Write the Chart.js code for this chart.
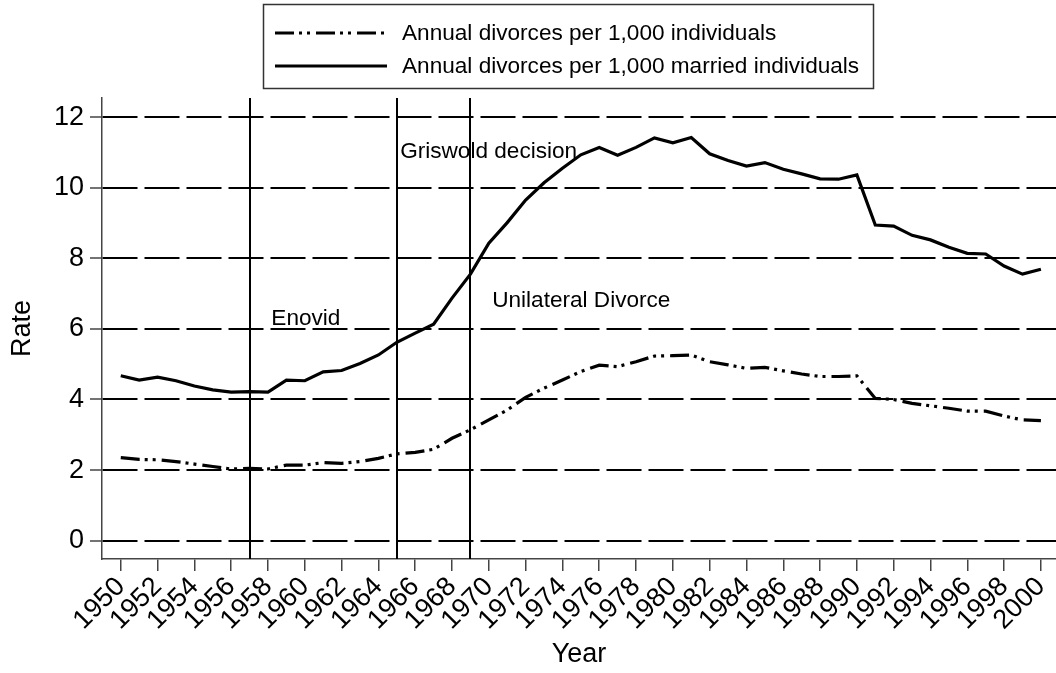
<!DOCTYPE html>
<html>
<head>
<meta charset="utf-8">
<script src="https://cdn.jsdelivr.net/npm/chart.js@4/dist/chart.umd.min.js"></script>
<style>
  html, body { margin: 0; padding: 0; background: #fff; }
</style>
</head>
<body>
<canvas id="chart" width="1056" height="673"></canvas>
<script>
// data
const years = [1950,1951,1952,1953,1954,1955,1956,1957,1958,1959,
  1960,1961,1962,1963,1964,1965,1966,1967,1968,1969,
  1970,1971,1972,1973,1974,1975,1976,1977,1978,1979,
  1980,1981,1982,1983,1984,1985,1986,1987,1988,1989,
  1990,1991,1992,1993,1994,1995,1996,1997,1998,1999,2000];

const per_individuals = [2.35,2.30,2.29,2.24,2.17,2.10,2.03,2.05,2.03,2.14,
  2.14,2.21,2.19,2.24,2.33,2.46,2.50,2.59,2.90,3.14,
  3.42,3.70,4.06,4.32,4.55,4.79,4.97,4.93,5.07,5.23,
  5.24,5.26,5.07,4.98,4.88,4.91,4.81,4.72,4.65,4.65,
  4.67,4.03,4.00,3.89,3.82,3.75,3.67,3.67,3.53,3.42,3.40];

const per_married = [4.67,4.55,4.63,4.53,4.38,4.27,4.21,4.22,4.21,4.55,
  4.53,4.78,4.82,5.02,5.26,5.62,5.88,6.13,6.87,7.55,
  8.43,9.01,9.65,10.14,10.55,10.93,11.14,10.92,11.14,11.41,
  11.27,11.42,10.96,10.77,10.61,10.71,10.52,10.39,10.25,10.24,
  10.36,8.94,8.91,8.65,8.52,8.31,8.14,8.12,7.78,7.55,7.69];

const series_labels = ['Annual divorces per 1,000 individuals', 'Annual divorces per 1,000 married individuals'];

// policy events (vertical lines) and where their text sits, in data units
const event_years = [1957, 1965, 1969];
const event_labels = ['Enovid', 'Griswold decision', 'Unilateral Divorce'];
const event_label_x = [1958.18, 1965.18, 1970.18];
const event_label_y = [6.11, 10.85, 6.63];

const FONT = "'Liberation Sans', Arial, Helvetica, sans-serif";
const DASH_DOT = [19, 5, 3, 5, 3, 6];

const overlay = {
  id: 'overlay',
  beforeDatasetsDraw(chart) {
    const {ctx, chartArea, scales: {x, y}} = chart;
    ctx.save();
    ctx.strokeStyle = '#000';
    ctx.lineWidth = 2;
    event_years.forEach(yr => {
      let px = Math.round(x.getPixelForValue(yr));
      ctx.beginPath();
      ctx.moveTo(px, chartArea.top);
      ctx.lineTo(px, chartArea.bottom);
      ctx.stroke();
    });
    ctx.fillStyle = '#000';
    ctx.font = '22.6px ' + FONT;
    ctx.textBaseline = 'alphabetic';
    ctx.textAlign = 'left';
    event_labels.forEach((t, i) => {
      ctx.fillText(t, x.getPixelForValue(event_label_x[i]), y.getPixelForValue(event_label_y[i]));
    });
    ctx.restore();
  },
  afterDraw(chart) {
    const ctx = chart.ctx;
    ctx.save();
    ctx.strokeStyle = '#333';
    ctx.lineWidth = 1.5;
    ctx.strokeRect(263.5, 4.5, 610, 84);
    const rows = [33, 66];
    chart.data.datasets.forEach((ds, i) => {
      ctx.strokeStyle = ds.borderColor;
      ctx.lineWidth = ds.borderWidth;
      ctx.setLineDash(ds.borderDash || []);
      ctx.beginPath();
      ctx.moveTo(275, rows[i]);
      ctx.lineTo(387, rows[i]);
      ctx.stroke();
      ctx.setLineDash([]);
      ctx.fillStyle = '#000';
      ctx.font = '22.6px ' + FONT;
      ctx.textBaseline = 'middle';
      ctx.fillText(ds.label, 402, rows[i] + 1);
    });
    ctx.restore();
  }
};

new Chart(document.getElementById('chart'), {
  type: 'line',
  data: {
    datasets: [
      {
        label: series_labels[0],
        data: years.map((yr, i) => ({x: yr, y: per_individuals[i]})),
        borderColor: '#000',
        borderWidth: 3.2,
        borderDash: DASH_DOT,
        pointRadius: 0,
        tension: 0,
        fill: false
      },
      {
        label: series_labels[1],
        data: years.map((yr, i) => ({x: yr, y: per_married[i]})),
        borderColor: '#000',
        borderWidth: 3.2,
        pointRadius: 0,
        tension: 0,
        fill: false
      }
    ]
  },
  options: {
    responsive: false,
    animation: false,
    devicePixelRatio: 1,
    layout: { padding: { top: 98, left: 0, right: 0, bottom: 0 } },
    plugins: { legend: { display: false }, tooltip: { enabled: false } },
    scales: {
      x: {
        type: 'linear',
        min: 1948.98,
        max: 2000.82,
        afterFit: s => { s.height = 114; s.paddingLeft = 0; s.paddingRight = 0; },
        border: { display: true, color: '#444', width: 1.5 },
        grid: { drawOnChartArea: false, drawTicks: true, tickLength: 12, color: '#444', lineWidth: 1.5 },
        ticks: {
          stepSize: 2, includeBounds: false, autoSkip: false,
          maxRotation: 45, minRotation: 45, padding: 0,
          color: '#000', font: { family: FONT, size: 27 },
          callback: v => String(v)
        },
        title: { display: true, text: 'Year', color: '#000', font: { family: FONT, size: 27 }, padding: { top: 0, bottom: 2 } }
      },
      y: {
        min: -0.52,
        max: 12.54,
        afterFit: s => { s.width = 102; s.paddingTop = 0; s.paddingBottom = 0; },
        border: { display: true, color: '#444', width: 1.5, dash: [35, 7] },
        grid: { drawOnChartArea: true, color: '#000', lineWidth: 2, tickLength: 12, tickColor: '#444', tickWidth: 1.5, tickBorderDash: [] },
        ticks: {
          stepSize: 2, includeBounds: false,
          padding: 6, color: '#000', font: { family: FONT, size: 27 },
          callback: v => String(v)
        },
        title: { display: true, text: 'Rate', color: '#000', font: { family: FONT, size: 27 }, padding: { top: 6, bottom: 0 } }
      }
    }
  },
  plugins: [overlay]
});
</script>
</body>
</html>
